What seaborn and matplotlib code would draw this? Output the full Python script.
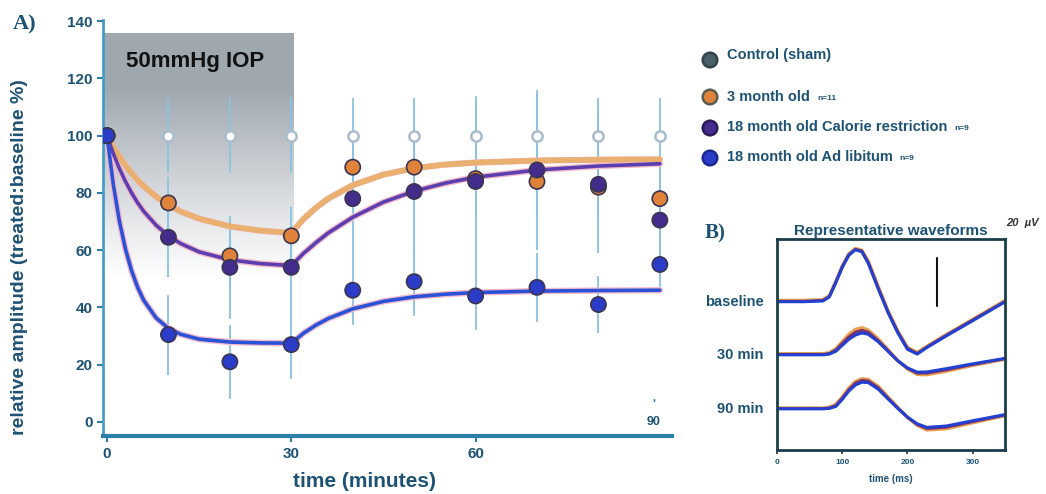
import numpy as np
import pandas as pd
import seaborn as sns
import matplotlib.pyplot as plt

# --- panel A: measured points (mean +/- sem) ---
TIMES = [0, 10, 20, 30, 40, 50, 60, 70, 80, 90]
CONTROL = [100, 100, 100, 100, 100, 100, 100, 100, 100, 100]
MONTH3 = [100, 76.5, 58, 65, 89, 89, 85, 84, 82, 78]
CR18 = [100, 64.5, 54, 54, 78, 80.5, 84, 88, 83, 70.5]
AL18 = [100, 30.5, 21, 27, 46, 49, 44, 47, 41, 55]
CONTROL_ERR = [0, 13, 13, 13, 13, 13, 14, 15, 13, 13]
MONTH3_ERR = [0, 9, 12, 10, 11, 11, 12, 12, 12, 12]
CR18_ERR = [0, 14, 18, 15, 20, 22, 28, 28, 24, 20]
AL18_ERR = [0, 14, 13, 12, 12, 12, 12, 12, 10, 10]

# --- panel A: fitted curves ---
FIT_T = [0, 1, 2, 3, 4, 5, 6, 8, 10, 12, 15, 20, 25, 30,
         32, 34, 36, 40, 45, 50, 55, 60, 70, 80, 90]
FIT_MONTH3 = [100, 96.1, 92.7, 89.6, 86.9, 84.4, 82.3, 78.7, 75.8, 73.5, 71.0, 68.3, 66.8, 66.0,
              70.9, 74.8, 78.0, 82.7, 86.4, 88.6, 89.9, 90.6, 91.3, 91.6, 91.7]
FIT_CR18 = [100, 93.9, 88.6, 84.0, 80.0, 76.5, 73.5, 68.7, 65.0, 62.3, 59.4, 56.6, 55.3, 54.6,
            58.9, 62.6, 66.0, 71.5, 76.8, 80.6, 83.4, 85.5, 88.0, 89.4, 90.2]
FIT_AL18 = [100, 83.3, 70.3, 60.4, 52.8, 46.9, 42.4, 36.3, 32.7, 30.6, 28.9, 27.9, 27.6, 27.5,
            31.0, 33.8, 36.1, 39.5, 42.1, 43.7, 44.6, 45.2, 45.7, 45.9, 46.0]

GROUPS = ["Control (sham)", "3 month old", "18 month old Calorie restriction",
          "18 month old Ad libitum"]
GROUP_N = ["", "n=11", "n=9", "n=9"]

# --- panel B: representative waveforms (uV, relative to each row) ---
WAVE_T = [0, 40, 70, 80, 90, 100, 110, 120, 130, 140, 155, 170, 185, 200, 215, 230, 260, 300, 350]
BL_ORANGE = [0.5, 0.5, 0.8, 2.5, 8.5, 15, 20, 22.3, 21.6, 16.8, 6.3, -3.8, -12.3, -19.3, -21.4, -18.7, -13.8, -7.5, 0.5]
BL_PURPLE = [0.2, 0.2, 0.5, 2.2, 8.2, 14.8, 19.8, 22, 21.3, 16.4, 5.9, -4.1, -12.6, -19.6, -21.7, -19, -14, -7.7, 0.2]
BL_BLUE = [0, 0, 0.3, 2, 8, 14.5, 19.5, 21.8, 21, 16, 5.5, -4.5, -13, -20, -22, -19.2, -14.3, -8, 0]
R30_ORANGE = [0.4, 0.4, 0.4, 0.8, 2.5, 5.5, 8.5, 10.6, 11.3, 10.3, 6.6, 2.2, -2.4, -5.9, -8.2, -8.3, -6.8, -4.4, -1.8]
R30_PURPLE = [0.2, 0.2, 0.2, 0.5, 2, 4.8, 7.5, 9.5, 10.3, 9.5, 6, 1.8, -2.5, -5.7, -7.7, -7.7, -6.3, -4.1, -1.6]
R30_BLUE = [0, 0, 0, 0.3, 1.5, 4, 6.5, 8.3, 9.2, 8.6, 5.5, 1.5, -2.5, -5.5, -7.3, -7.2, -5.8, -3.8, -1.5]
R90_ORANGE = [0.3, 0.3, 0.3, 0.6, 1.8, 5, 8.7, 11.4, 12.6, 12.3, 9.4, 5, 0.6, -3.6, -6.9, -8.8, -8.3, -5.8, -2.8]
R90_PURPLE = [0.1, 0.1, 0.1, 0.4, 1.4, 4.5, 8.1, 10.8, 12, 11.7, 8.9, 4.6, 0.4, -3.5, -6.6, -8.3, -7.7, -5.4, -2.6]
R90_BLUE = [0, 0, 0, 0.2, 1, 4, 7.5, 10, 11.2, 11, 8.3, 4.2, 0.2, -3.5, -6.3, -7.8, -7.2, -5, -2.4]
ROW_LABELS = ["baseline", "30 min", "90 min"]
ROW_BASE = [62.3, 40.0, 17.3]
SCALE_UV = 20

TXT = "#1d5275"
AXC = "#2b7fa8"
ERRC = "#8cc3e0"
COL_CTRL = "#a9bccb"
COL_3M = "#e0823a"
COL_CR = "#432c8c"
COL_AL = "#2a3cc8"


def main():
    sns.set_theme(style="white")
    plt.rcParams['font.family'] = ['Liberation Sans', 'DejaVu Sans']
    plt.rcParams['font.weight'] = 'bold'

    fig = plt.figure(figsize=(10.46, 4.94), dpi=100)
    ax = fig.add_axes([0.0985, 0.117, 0.5435, 0.843])

    # shaded IOP window
    n = 256
    alpha = np.clip(np.linspace(1.1, -0.2, n), 0, 0.85) ** 1.1
    shade = np.zeros((n, 1, 4))
    shade[..., 0], shade[..., 1], shade[..., 2] = 0.55, 0.59, 0.63
    shade[:, 0, 3] = alpha
    ax.imshow(shade, extent=[-0.65, 30.3, 34, 136], aspect='auto', origin='upper', zorder=0)
    ax.text(14.3, 126, "50mmHg IOP", fontsize=16, fontweight='bold', color="#111111",
            ha='center', va='center', zorder=5)

    series = [(CONTROL, CONTROL_ERR), (MONTH3, MONTH3_ERR), (CR18, CR18_ERR), (AL18, AL18_ERR)]
    for vals, err in series:
        ax.errorbar(TIMES, vals, yerr=err, fmt='none', ecolor=ERRC, elinewidth=1.3, zorder=1)

    fits = pd.DataFrame({"t": FIT_T * 3,
                         "v": FIT_MONTH3 + FIT_CR18 + FIT_AL18,
                         "g": [GROUPS[1]] * len(FIT_T) + [GROUPS[2]] * len(FIT_T) + [GROUPS[3]] * len(FIT_T)})
    # faint pink halo under the curves
    sns.lineplot(data=fits, x="t", y="v", units="g", estimator=None, color="#f4b8c8",
                 linewidth=4.5, ax=ax, zorder=2, legend=False)
    sns.lineplot(data=fits, x="t", y="v", hue="g", estimator=None, linewidth=2.6,
                 palette={GROUPS[1]: "#e9b070", GROUPS[2]: "#5b3fb0", GROUPS[3]: "#2a52d8"},
                 ax=ax, zorder=3, legend=False)
    ax.lines[-3].set_linewidth(4)

    pts = pd.DataFrame({"t": TIMES * 4, "v": CONTROL + MONTH3 + CR18 + AL18,
                        "g": sum([[g] * len(TIMES) for g in GROUPS], [])})
    ctrl = pts[pts.g == GROUPS[0]]
    ax.scatter(ctrl.t, ctrl.v, s=55, facecolor='white', edgecolor=COL_CTRL, linewidth=1.8, zorder=4)
    sns.scatterplot(data=pts[pts.g != GROUPS[0]], x="t", y="v", hue="g",
                    palette={GROUPS[1]: COL_3M, GROUPS[2]: COL_CR, GROUPS[3]: COL_AL},
                    s=120, edgecolor="#3a3550", linewidth=1.2, ax=ax, zorder=5, legend=False)

    ax.set_xlim(-0.65, 91.9)
    ax.set_ylim(-5, 140.5)
    ax.set_xticks([0, 30, 60])
    ax.set_yticks(range(0, 141, 20))
    ax.tick_params(axis='both', colors=AXC, labelcolor=TXT, labelsize=11, length=4, width=1.5,
                   direction='out', left=True, bottom=True)
    for lab in ax.get_xticklabels() + ax.get_yticklabels():
        lab.set_fontweight('bold')
    for s in ['top', 'right']:
        ax.spines[s].set_visible(False)
    ax.spines['left'].set_color("#4a9cc8")
    ax.spines['left'].set_linewidth(2)
    ax.spines['bottom'].set_color(AXC)
    ax.spines['bottom'].set_linewidth(3)
    ax.set_xlabel("time (minutes)", fontsize=15, fontweight='bold', color=TXT, labelpad=4)
    ax.xaxis.set_label_coords(0.46, -0.085)
    ax.set_ylabel("relative amplitude (treated:baseline %)", fontsize=14, fontweight='bold',
                  color=TXT)
    ax.yaxis.set_label_coords(-0.132, 0.43)
    ax.text(89, 6, "'", fontsize=9, color=AXC, ha='center', va='center')
    ax.text(89, 0, "90", fontsize=9, color=TXT, ha='center', va='center')

    fig.text(0.012, 0.951, "A)", fontsize=16, fontweight='bold', family='Liberation Serif',
             color=TXT, va='center')

    # legend drawn by hand so the n= notes can be smaller
    W, H = 1046, 494
    rows_y = [55, 97, 127, 157]
    mark_y = [60, 97, 128, 158]
    fills = ["#4a5e68", COL_3M, COL_CR, COL_AL]
    edges = ["#33434b", "#5a5a50", "#2a1a5a", "#1a2890"]
    lax = fig.add_axes([0, 0, 1, 1], facecolor='none')
    lax.set_xlim(0, W)
    lax.set_ylim(H, 0)
    lax.axis('off')
    lax.scatter([710] * 4, mark_y, s=110, c=fills, edgecolors=edges, linewidths=1.8, zorder=3)
    labels = []
    for g, y in zip(GROUPS, rows_y):
        labels.append(lax.text(727, y, g, fontsize=10.5, fontweight='bold', color=TXT, va='center'))
    fig.canvas.draw()
    r = fig.canvas.get_renderer()
    inv = lax.transData.inverted()
    for t, note, y in zip(labels, GROUP_N, rows_y):
        if note:
            x1 = inv.transform(t.get_window_extent(r).p1)[0]
            lax.text(x1 + 7, y + 1, note, fontsize=6, fontweight='bold', color=TXT, va='center')

    # --- panel B ---
    bx = fig.add_axes([0.743, 0.089, 0.218, 0.427])
    rows = [(BL_ORANGE, BL_PURPLE, BL_BLUE), (R30_ORANGE, R30_PURPLE, R30_BLUE),
            (R90_ORANGE, R90_PURPLE, R90_BLUE)]
    for (orng, purp, blue), base, lab in zip(rows, ROW_BASE, ROW_LABELS):
        for vals, c, lw in [(orng, "#e9a050", 2.6), (purp, "#7a2f6a", 2.0), (blue, "#2440d0", 2.2)]:
            sns.lineplot(x=WAVE_T, y=np.array(vals) + base, color=c, linewidth=lw, ax=bx)
        bx.text(-0.06, base, lab, transform=bx.get_yaxis_transform(), ha='right', va='center',
                fontsize=10.5, fontweight='bold', color=TXT)
    bx.plot([246, 246], [60.5, 60.5 + SCALE_UV], color="#111111", linewidth=1.5)
    bx.set_xlim(0, 350)
    bx.set_ylim(0, 88.6)
    bx.set_xticks([0, 100, 200, 300])
    bx.set_yticks([])
    bx.tick_params(axis='x', colors="#1a3a48", labelcolor=TXT, labelsize=6, length=3, width=1.2,
                   direction='out', bottom=True)
    for s in bx.spines.values():
        s.set_color("#1a3f4a")
        s.set_linewidth(2)
    bx.set_xlabel("time (ms)", fontsize=7, fontweight='bold', color=TXT, labelpad=6)
    bx.set_title("Representative waveforms", fontsize=11, fontweight='bold', color=TXT, pad=3)
    fig.text(0.674, 0.528, "B)", fontsize=15, fontweight='bold', family='Liberation Serif',
             color=TXT, va='center')
    fig.text(0.993, 0.548, "20  \u00b5V", fontsize=8, fontweight='bold', style='italic',
             color="#333333", ha='right', va='center')

    fig.savefig("out.png", dpi=100)


if __name__ == "__main__":
    main()
